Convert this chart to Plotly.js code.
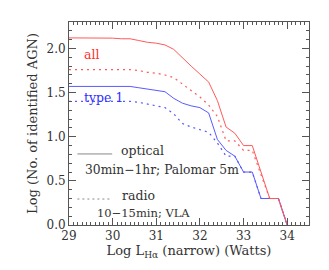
<!DOCTYPE html>
<html><head><meta charset="utf-8">
<script src="https://cdn.plot.ly/plotly-3.0.1.min.js"></script>
<style>html,body{margin:0;padding:0;background:#fff}#c{width:329px;height:270px}</style>
</head><body><div id="c"></div>
<script>
const logL = [29.0,29.2,29.4,29.6,29.8,30.0,30.2,30.4,30.6,30.8,31.0,31.2,31.4,31.6,31.8,32.0,32.2,32.4,32.6,32.8,33.0,33.2,33.4,33.6,33.8,34.0];
const allOptical  = [2.12,2.12,2.12,2.12,2.12,2.117,2.11,2.11,2.09,2.07,2.06,2.04,1.99,1.89,1.80,1.71,1.62,1.41,1.11,1.04,0.90,0.90,0.60,0.30,0.30,0.0];
const allRadio    = [1.76,1.76,1.76,1.76,1.76,1.76,1.76,1.76,1.75,1.73,1.72,1.70,1.67,1.60,1.52,1.45,1.36,1.23,0.954,0.954,0.845,0.845,0.57,0.30,0.30,0.0];
const type1Optical= [1.57,1.57,1.57,1.57,1.57,1.57,1.57,1.57,1.555,1.54,1.525,1.51,1.435,1.38,1.35,1.33,1.27,0.97,0.845,0.78,0.60,0.60,0.30,0.30,0.30,0.0];
const type1Radio  = [1.40,1.40,1.40,1.40,1.40,1.40,1.40,1.40,1.39,1.37,1.355,1.33,1.26,1.15,1.11,1.08,1.05,0.93,0.78,0.78,0.60,0.60,0.30,0.30,0.30,0.0];

const RED = '#ff5a5a', BLUE = '#5a5aff';
const FONT = 'DejaVu Serif';
const TXT = '#333';
const traces = [
  {x: logL, y: type1Radio, mode:'lines', line:{color:BLUE, width:1.2, dash:'2px,4px'}},
  {x: logL, y: allRadio, mode:'lines', line:{color:RED, width:1.2, dash:'2px,4px'}},
  {x: logL, y: type1Optical, mode:'lines', line:{color:BLUE, width:1}},
  {x: logL, y: allOptical, mode:'lines', line:{color:RED, width:1}}
];
const axisCommon = {
  showgrid:false, zeroline:false, showline:true, linecolor:'#555', linewidth:1,
  mirror:'ticks', ticks:'inside', ticklen:7, tickcolor:'#555',
  tickfont:{family:FONT, size:12, color:TXT}
};
const layout = {
  width:329, height:270, showlegend:false,
  paper_bgcolor:'#fff', plot_bgcolor:'#fff',
  margin:{l:69, r:20, t:22, b:45},
  font:{family:FONT, color:TXT},
  xaxis: Object.assign({}, axisCommon, {
    range:[29, 34.5], tickvals:[29,30,31,32,33,34], ticktext:['29','30','31','32','33','34'],
    minor:{dtick:0.1, ticks:'inside', ticklen:3, tickcolor:'#555'},
    title:{text:'Log L<sub>Hα</sub> (narrow) (Watts)', font:{family:FONT, size:13, color:TXT}, standoff:3}
  }),
  yaxis: Object.assign({}, axisCommon, {
    range:[0, 2.3], tickvals:[0,0.5,1,1.5,2], ticktext:['0.0','0.5','1.0','1.5','2.0'],
    minor:{dtick:0.1, ticks:'inside', ticklen:3, tickcolor:'#555'},
    title:{text:'Log (No. of identified AGN)', font:{family:FONT, size:13, color:TXT}, standoff:5}
  }),
  shapes: [
    {type:'line', xref:'paper', yref:'paper', x0:0.035, x1:0.18, y0:0.35, y1:0.35, line:{color:'#888', width:1}},
    {type:'line', xref:'paper', yref:'paper', x0:0.035, x1:0.18, y0:0.128, y1:0.128, line:{color:'#888', width:1, dash:'2px,3px'}}
  ],
  annotations: [
    {x:29.3, y:1.93, xanchor:'left', yanchor:'middle', text:'all', showarrow:false, font:{family:FONT, size:12.5, color:'#ff3030'}},
    {x:29.3, y:1.45, xanchor:'left', yanchor:'middle', text:'type 1', showarrow:false, font:{family:FONT, size:12.5, color:'#3030ff'}},
    {xref:'paper', yref:'paper', x:0.308, y:0.365, xanchor:'center', yanchor:'middle', text:'optical', showarrow:false, font:{family:FONT, size:12.5, color:TXT}},
    {xref:'paper', yref:'paper', x:0.3875, y:0.272, xanchor:'center', yanchor:'middle', text:'30min−1hr; Palomar 5m', showarrow:false, font:{family:FONT, size:12.3, color:TXT}},
    {xref:'paper', yref:'paper', x:0.2875, y:0.145, xanchor:'center', yanchor:'middle', text:'radio', showarrow:false, font:{family:FONT, size:12.5, color:TXT}},
    {xref:'paper', yref:'paper', x:0.31, y:0.058, xanchor:'center', yanchor:'middle', text:'10−15min; VLA', showarrow:false, font:{family:FONT, size:11.5, color:TXT}}
  ]
};
Plotly.newPlot('c', traces, layout, {staticPlot:true, displayModeBar:false});
</script></body></html>
